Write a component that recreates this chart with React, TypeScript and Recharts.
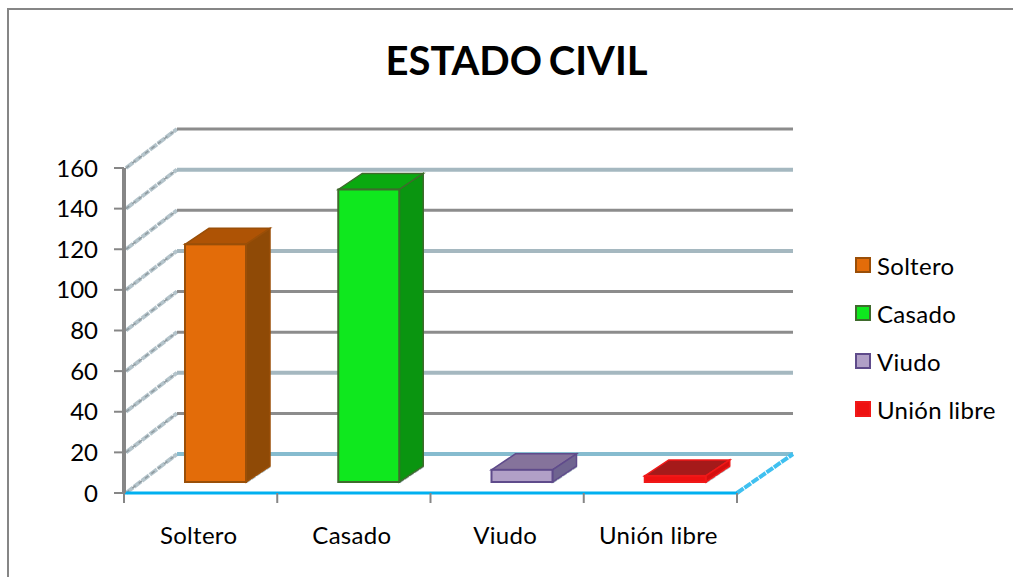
import { Bar, BarChart, CartesianGrid, Cell, XAxis, YAxis } from "recharts";

const categories = ["Soltero", "Casado", "Viudo", "Unión libre"];
const counts = [117, 144, 6, 3];
const yTicks = [0, 20, 40, 60, 80, 100, 120, 140, 160];

const frontColors = ["#e36c09", "#0fe81e", "#b1a0c7", "#ee1111"];
const topColors = ["#ae5305", "#0aa910", "#85739b", "#a51a1a"];
const sideColors = ["#8f4a06", "#0a9510", "#6f6490", "#d40f0f"];
const edgeColors = ["#9a4f08", "#3f6b2d", "#5f4b8b", "#f01818"];

// back wall line colours, 0 up to 160
const wallColors = ["#86bccf", "#8c8c8c", "#a5b8c0", "#8c8c8c", "#8c8c8c", "#a5b8c0", "#8c8c8c", "#a5b8c0", "#8c8c8c"];

const data = categories.map((name, i) => ({ name, value: counts[i] }));

const FONT = "Lato, sans-serif";
const DEPTH_X = 53;
const DEPTH_Y = 39;
const WALL_RIGHT = 793;
const CAT_WIDTH = 153.25;

const WallLine = (props: any) => {
  const { x1, x2, y1 } = props;
  const v = Math.round(((493 - y1) / 325) * 160);
  const color = wallColors[v / 20] ?? "#8c8c8c";
  const bx = x1 + DEPTH_X;
  const by = y1 - DEPTH_Y;
  return (
    <g fill="none">
      <line x1={x1 + 2} y1={y1} x2={bx} y2={by} stroke="#b4c4cb" strokeWidth={4} strokeDasharray="9 1" />
      <line x1={x1 + 2} y1={y1} x2={bx} y2={by} stroke="#8f9a9f" strokeWidth={1.5} strokeDasharray="4 4" />
      <line x1={bx} y1={by} x2={WALL_RIGHT} y2={by} stroke={color} strokeWidth={color === "#8c8c8c" ? 3 : 4} />
      {v === 0 && (
        <line x1={x2} y1={y1} x2={WALL_RIGHT} y2={by} stroke="#3fc0f0" strokeWidth={4} strokeDasharray="8 1" />
      )}
    </g>
  );
};

const CategoryTick = (props: any) => {
  const { x, y, payload, index } = props;
  const left = x - CAT_WIDTH / 2;
  const right = x + CAT_WIDTH / 2;
  return (
    <g>
      <line x1={left} y1={y - 8} x2={left} y2={y + 2} stroke="#868686" strokeWidth={2} />
      {index === categories.length - 1 && (
        <line x1={right} y1={y - 8} x2={right} y2={y + 2} stroke="#868686" strokeWidth={2} />
      )}
      <text x={x - 2} y={y + 43} textAnchor="middle" fontFamily={FONT} fontSize={24} letterSpacing={0.3} fill="#000">
        {payload.value}
      </text>
    </g>
  );
};

const Bar3D = (props: any) => {
  const { x, y, width, height, index } = props;
  const dx = 15;
  const dy = -11;
  const dX = 24;
  const dY = -16;
  const l = x + dx;
  const r = l + width;
  const t = y + dy;
  const b = t + height;
  const edge = edgeColors[index];
  return (
    <g>
      <line x1={r} y1={b} x2={r + dX} y2={b + dY} stroke="#a9bcc4" strokeWidth={3} strokeDasharray="5 1" />
      <polygon
        points={`${l},${t} ${l + dX},${t + dY} ${r + dX},${t + dY} ${r},${t}`}
        fill={topColors[index]}
        stroke={edge}
        strokeWidth={1.5}
      />
      <polygon
        points={`${r},${t} ${r + dX},${t + dY} ${r + dX},${b + dY} ${r},${b}`}
        fill={sideColors[index]}
        stroke={edge}
        strokeWidth={1.5}
      />
      <rect x={l} y={t} width={width} height={height} fill={frontColors[index]} stroke={edge} strokeWidth={2} />
    </g>
  );
};

const App = () => {
  return (
    <div style={{ position: "absolute", left: 0, top: 0, width: 1013, height: 577, background: "#fff", overflow: "hidden" }}>
      <div style={{ position: "absolute", left: 7, top: 8, right: 0, bottom: 0, borderTop: "2px solid #868686", borderLeft: "2px solid #868686" }} />
      <BarChart
        width={1013}
        height={577}
        data={data}
        margin={{ top: 168, right: 276, bottom: 44, left: 54 }}
        style={{ position: "absolute", left: 0, top: 0 }}
      >
        <CartesianGrid vertical={false} horizontal={WallLine} />
        <XAxis
          dataKey="name"
          height={40}
          axisLine={{ stroke: "#00b0f0", strokeWidth: 3 }}
          tickLine={false}
          tick={CategoryTick}
          interval={0}
        />
        <YAxis
          width={70}
          domain={[0, 160]}
          ticks={yTicks}
          interval={0}
          axisLine={{ stroke: "#868686", strokeWidth: 4 }}
          tickLine={{ stroke: "#868686", strokeWidth: 2 }}
          tickSize={10}
          tickMargin={16}
          tick={{ fontFamily: FONT, fontSize: 24, fill: "#000" }}
        />
        <Bar dataKey="value" barSize={61} shape={Bar3D} isAnimationActive={false}>
          {categories.map((c, i) => (
            <Cell key={c} fill={frontColors[i]} />
          ))}
        </Bar>
      </BarChart>
      <div
        style={{
          position: "absolute",
          left: 0,
          width: 1033,
          top: 36,
          textAlign: "center",
          fontFamily: FONT,
          fontWeight: 700,
          fontSize: 40,
          wordSpacing: -3,
          lineHeight: "48px",
          color: "#000",
        }}
      >
        ESTADO CIVIL
      </div>
      {categories.map((c, i) => (
        <div key={c} style={{ position: "absolute", left: 855, top: 249 + i * 48, height: 32, display: "flex", alignItems: "center", fontFamily: FONT, fontSize: 24, letterSpacing: 0.3, color: "#000" }}>
          <span style={{ width: 16, height: 16, boxSizing: "border-box", background: frontColors[i], border: `2px solid ${edgeColors[i]}`, marginRight: 6 }} />
          {c}
        </div>
      ))}
    </div>
  );
};

export default App;
